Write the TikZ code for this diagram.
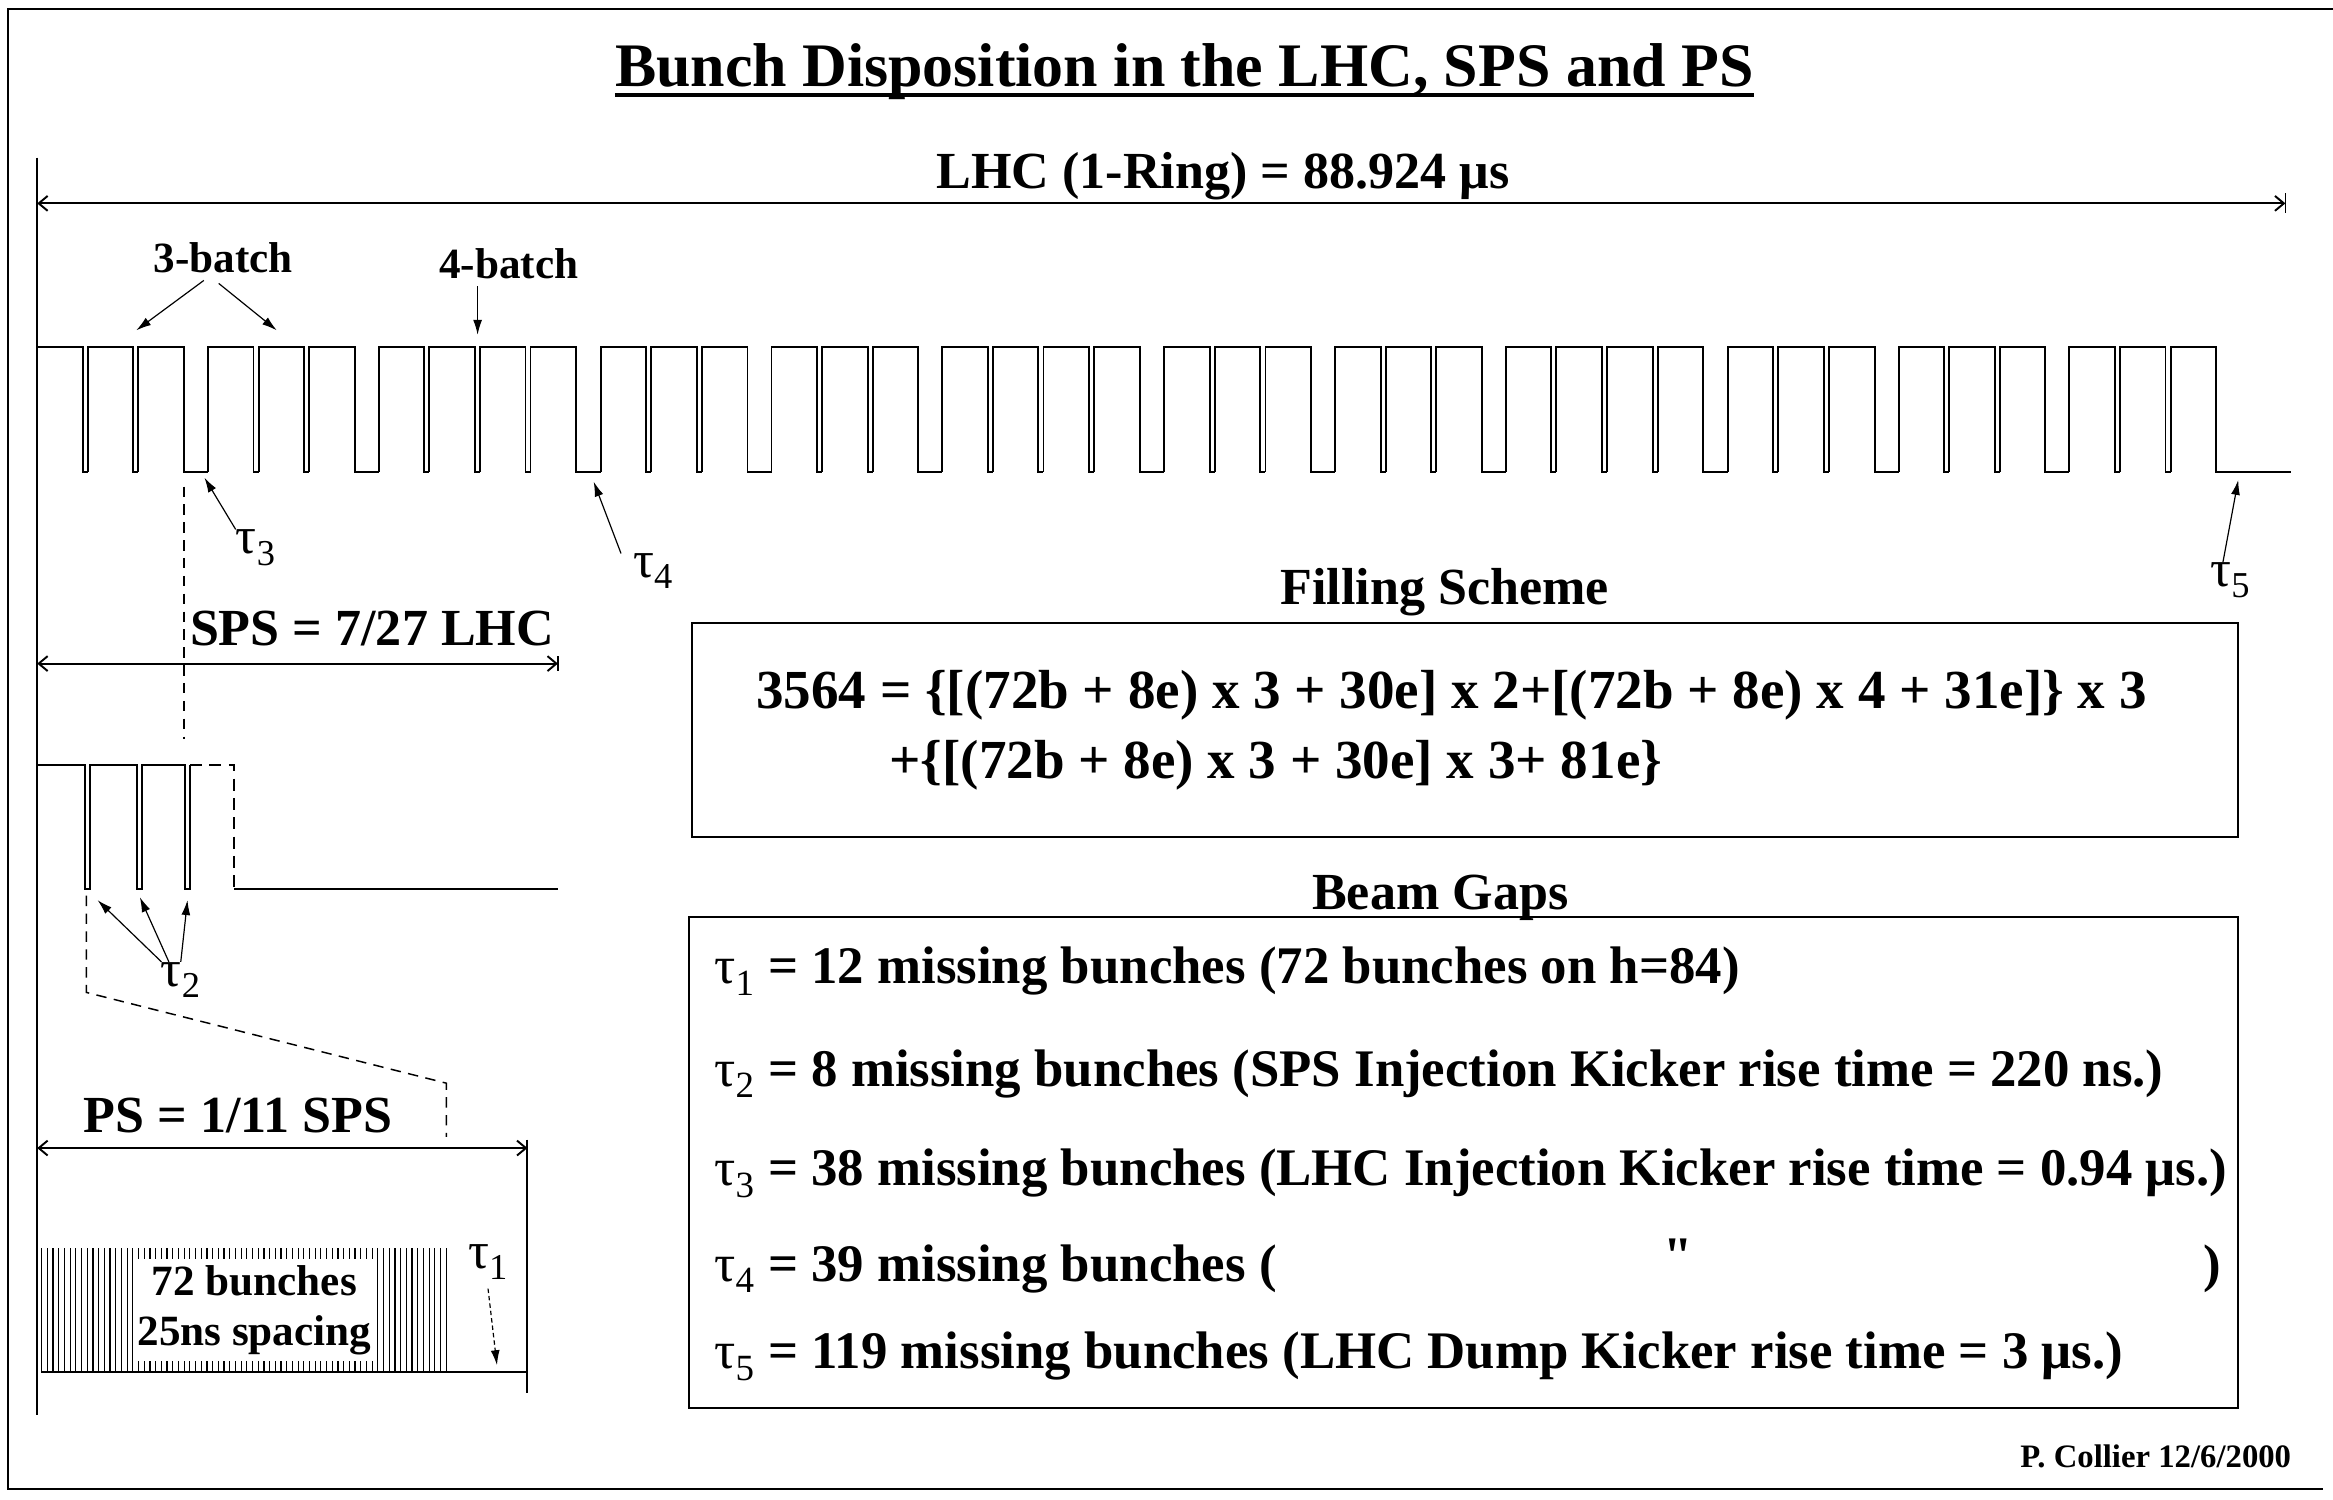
\documentclass[tikz,border=0pt]{standalone}
\usepackage{fontspec}
\setmainfont{Liberation Serif}
\newfontfamily\rawserif{Liberation Serif}[Ligatures=TeXOff]
\usetikzlibrary{arrows.meta}

\tikzset{
  wave/.style={line width=1.3pt},
  dimline/.style={line width=1.3pt,{Straight Barb[length=6pt,width=10pt]}-{Straight Barb[length=6pt,width=10pt]}},
  ptr/.style={line width=0.8pt,-{Latex[length=10pt,width=6pt]}},
  proj/.style={line width=1pt,dash pattern=on 7pt off 5pt},
  lbl/.style={font=\bfseries\fontsize{35}{40}\selectfont,inner sep=0pt},
  small/.style={font=\bfseries\fontsize{29}{34}\selectfont,inner sep=0pt},
  gap/.style={font=\bfseries\fontsize{35.5}{40}\selectfont,inner sep=0pt,anchor=base west},
}
\newcommand{\tsub}[1]{{\mdseries τ}\textsubscript{\mdseries #1}}
\def\slot{0.42508}

\begin{document}
\begin{tikzpicture}[x=1pt,y=-1pt]
  \useasboundingbox (0,0) rectangle (1568,1008);
  \draw[line width=1.3pt] (1568,6) -- (5.5,6) -- (5.5,1001) -- (1561,1001);

  % title
  \node[font=\bfseries\fontsize{41.6}{48}\selectfont,inner sep=0pt,anchor=base] (title) at (796,58)
    {Bunch Disposition in the LHC, SPS and PS};
  \coordinate (uline) at (0,64);
  \draw[line width=2.6pt] (title.west |- uline) -- (title.east |- uline);

  % LHC ring
  \node[lbl,anchor=base] (lhc) at (822,127) {LHC (1-Ring) = 88.924 μs};
  \coordinate (lhcL) at (25,136.7);
  \coordinate (lhcR) at (1536,136.7);
  \draw[dimline] (lhcL) -- (lhcR);
  \draw[line width=1pt] (1536,130) -- (1536,143);
  \draw[line width=1.3pt] (25,106) -- (25,951);

  \foreach \st/\nb/\ex in {0/3/30,270/3/30,540/4/31,891/3/30,1161/3/30,1431/4/31,
                           1782/3/30,2052/3/30,2322/4/31,2673/3/30,2943/3/30,3213/3/111} {
    \foreach \k in {1,...,\nb} {
      \pgfmathsetmacro\xa{25+(\st+80*(\k-1))*\slot}
      \pgfmathsetmacro\xb{\xa+72*\slot}
      \pgfmathsetmacro\xc{\xa+80*\slot}
      \draw[wave] (\xa,317) -- (\xa,233) -- (\xb,233) -- (\xb,317) -- (\xc,317);
    }
    \pgfmathsetmacro\xe{25+(\st+80*\nb)*\slot}
    \draw[wave] (\xe,317) -- ++(\ex*\slot,0);
  }

  \node[small,anchor=base] (b3) at (150,183) {3-batch};
  \node[small,anchor=base] (b4) at (342,187) {4-batch};
  \coordinate (b3a) at (91.6,222);
  \coordinate (b3b) at (186,222);
  \coordinate (b4a) at (321,225);
  \draw[ptr] ([xshift=-13pt,yshift=-5pt]b3.south) -- (b3a);
  \draw[ptr] ([xshift=-3pt,yshift=-7pt]b3.south) -- (b3b);
  \draw[ptr] ([xshift=-21pt,yshift=-5pt]b4.south) -- (b4a);

  \node[lbl] (t3) at (172,368) {\tsub{3}};
  \node[lbl] (t4) at (439,384) {\tsub{4}};
  \node[lbl] (t5) at (1499,390) {\tsub{5}};
  \coordinate (g3) at (137.4,321);
  \coordinate (g4) at (399,323.7);
  \coordinate (g5) at (1504.3,322.6);
  \draw[ptr] (t3.north west) -- (g3);
  \draw[ptr] ([xshift=-8pt]t4.north west) -- (g4);
  \draw[ptr] ([xshift=-5pt]t5.north) -- (g5);

  % SPS
  \draw[proj] (123.5,327) -- (123.5,497);
  \node[lbl,anchor=base] (sps) at (250,434) {SPS = 7/27 LHC};
  \coordinate (spsL) at (25,446);
  \coordinate (spsR) at (375,446);
  \draw[dimline] (spsL) -- (spsR);
  \draw[line width=1pt] (375,441) -- (375,451);
  \draw[wave] (25,514) -- (57,514) -- (57,597.5) -- (60.7,597.5) -- (60.7,514)
    -- (91.8,514) -- (91.8,597.5) -- (95.2,597.5) -- (95.2,514) -- (124.2,514)
    -- (124.2,597.5) -- (127.8,597.5) -- (127.8,514);
  \draw[wave,dash pattern=on 8pt off 5pt] (127.8,514) -- (157.5,514) -- (157.5,597.5);
  \draw[wave] (157.5,597.5) -- (375,597.5);

  \node[lbl] (t2) at (121.5,658.5) {\tsub{2}};
  \coordinate (n1) at (65.6,605);
  \coordinate (n2) at (94,603);
  \coordinate (n3) at (126,605);
  \draw[ptr] ([xshift=-13pt]t2.north) -- (n1);
  \draw[ptr] ([xshift=-8pt]t2.north) -- (n2);
  \draw[ptr] ([xshift=0pt]t2.north) -- (n3);

  \draw[proj] (58,602) -- (58,667) -- (300,728) -- (300,764);

  % PS
  \node[lbl,anchor=base] (ps) at (160,761) {PS = 1/11 SPS};
  \coordinate (psL) at (25,771.6);
  \coordinate (psR) at (354.5,771.6);
  \draw[dimline] (psL) -- (psR);
  \draw[line width=1.3pt] (354.5,766) -- (354.5,936);
  \draw[line width=1.3pt] (27.8,922) -- (354.5,922);
  \foreach \i in {0,...,71}
    \draw[line width=0.8pt] ({28+\i*3.83},839) -- ++(0,83);
  \node[fill=white,inner sep=0pt,minimum width=161pt,minimum height=69pt,align=center,
        font=\bfseries\fontsize{29}{34}\selectfont] (bunch) at (171,880.5) {72 bunches\\25ns spacing};
  \node[lbl] (t1) at (328,848) {\tsub{1}};
  \coordinate (g1) at (334,917.5);
  \draw[ptr,densely dashed] ([yshift=-6pt]t1.south) -- (g1);

  % filling scheme
  \node[lbl,anchor=base] (fillhead) at (971,406) {Filling Scheme};
  \draw[line width=1.3pt] (465,419) rectangle (1504,562.5);
  \node[font=\bfseries\fontsize{37}{42}\selectfont,inner sep=0pt,anchor=base west] (fill1) at (508,476)
    {3564 = \{[(72b + 8e) x 3 + 30e] x 2+[(72b + 8e) x 4 + 31e]\} x 3};
  \node[font=\bfseries\fontsize{37}{42}\selectfont,inner sep=0pt,anchor=base west] (fill2) at (597.5,523)
    {+\{[(72b + 8e) x 3 + 30e] x 3+ 81e\}};

  % beam gaps
  \node[lbl,anchor=base] (gaphead) at (968,611) {Beam Gaps};
  \draw[line width=1.3pt] (463,616) rectangle (1504,946);
  \node[gap] (gap1) at (480,661) {\tsub{1} = 12 missing bunches (72 bunches on h=84)};
  \node[gap] (gap2) at (480,730) {\tsub{2} = 8 missing bunches (SPS Injection Kicker rise time = 220 ns.)};
  \node[gap] (gap3) at (480,797) {\tsub{3} = 38 missing bunches (LHC Injection Kicker rise time = 0.94 μs.)};
  \node[gap] (gap4) at (480,861) {\tsub{4} = 39 missing bunches (};
  \node[gap,anchor=base] (gap4q) at (1128,856) {\rawserif\bfseries "};
  \node[gap,anchor=base] (gap4r) at (1487,861) {)};
  \node[gap] (gap5) at (480,920) {\tsub{5} = 119 missing bunches (LHC Dump Kicker rise time = 3 μs.)};

  \node[font=\bfseries\fontsize{22}{26}\selectfont,inner sep=0pt,anchor=base east] (author) at (1540,986)
    {P. Collier 12/6/2000};
\end{tikzpicture}
\end{document}
